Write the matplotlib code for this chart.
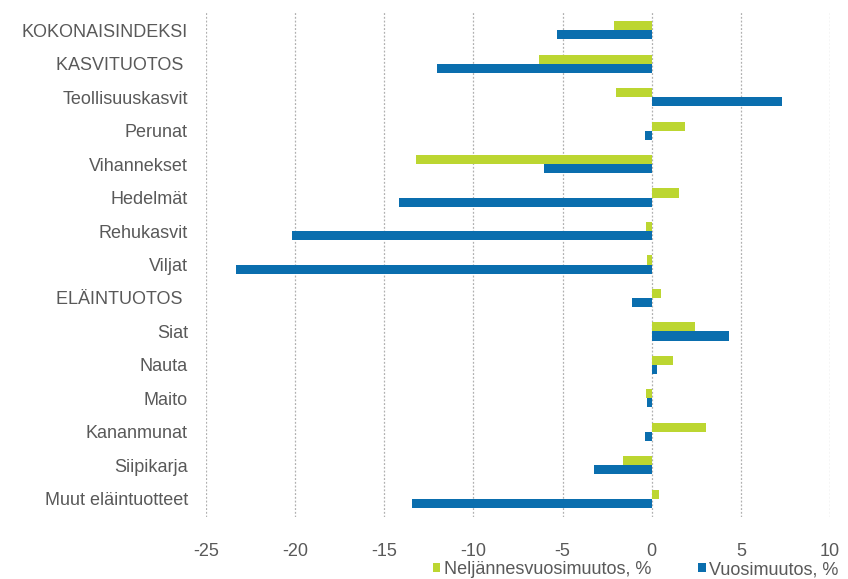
import numpy as np
import matplotlib.pyplot as plt
from matplotlib.patches import Patch

categories = ["KOKONAISINDEKSI", "KASVITUOTOS ", "Teollisuuskasvit", "Perunat",
              "Vihannekset", "Hedelmät", "Rehukasvit", "Viljat", "ELÄINTUOTOS ",
              "Siat", "Nauta", "Maito", "Kananmunat", "Siipikarja", "Muut eläintuotteet"]
quarterly = [-2.1, -6.3, -2.0, 1.85, -13.2, 1.55, -0.3, -0.25, 0.5,
             2.45, 1.2, -0.3, 3.05, -1.6, 0.4]
yearly = [-5.3, -12.05, 7.3, -0.35, -6.05, -14.2, -20.2, -23.3, -1.1,
          4.35, 0.3, -0.25, -0.4, -3.25, -13.45]
xticks = [-25, -20, -15, -10, -5, 0, 5, 10]

green = "#bcd631"
blue = "#0a6eae"
text_color = "#595959"

plt.rcParams['font.family'] = ['Liberation Sans', 'DejaVu Sans']

fig = plt.figure(figsize=(8.48, 5.79), dpi=100)
ax = fig.add_axes([206 / 848, 1 - 517 / 579, 624 / 848, 505 / 579])

y = np.arange(len(categories))
h = 0.27
ax.barh(y - h / 2, quarterly, height=h, color=green, zorder=3)
ax.barh(y + h / 2, yearly, height=h, color=blue, zorder=3)

ax.set_xlim(-25, 10)
ax.set_ylim(14.54, -0.54)
ax.set_xticks(xticks)
ax.set_xticklabels([str(t) for t in xticks])
ax.set_yticks(y)
ax.set_yticklabels(categories)

for s in ax.spines.values():
    s.set_visible(False)
ax.tick_params(axis='both', length=0, colors=text_color, labelsize=13)
ax.tick_params(axis='x', pad=19)
ax.tick_params(axis='y', pad=13)
ax.xaxis.grid(True, color="#b0b0b0", linestyle=(0, (1.5, 1.5)), linewidth=0.9, zorder=0)

handles = [Patch(facecolor=green, label="Neljännesvuosimuutos, %"),
           Patch(facecolor=blue, label="Vuosimuutos, %")]
fig.legend(handles=handles, loc='lower right', bbox_to_anchor=(0.99, 0.0), ncol=2,
           frameon=False, fontsize=13, labelcolor=text_color, borderpad=0.05,
           borderaxespad=0.0,
           handlelength=0.4, handleheight=0.4, handletextpad=0.2, columnspacing=2.6)

fig.savefig("out.png", dpi=100)
